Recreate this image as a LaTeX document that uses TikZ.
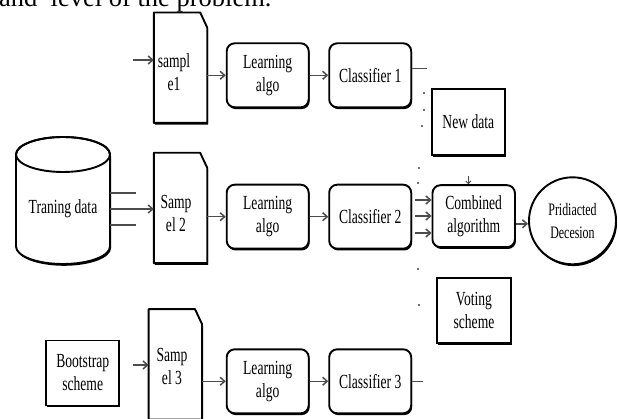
\documentclass[tikz,border=0pt]{standalone}
\usepackage{fontspec}
\setmainfont{Liberation Serif}[FakeStretch=0.68]
\newfontfamily\wideserif{Liberation Serif}
\usetikzlibrary{arrows.meta,shadows}

\tikzset{
  boxshadow/.style={drop shadow={shadow xshift=1pt, shadow yshift=-1.8pt, opacity=1, fill=black}},
  box/.style={draw, line width=1.9pt, fill=white, align=center, inner sep=0pt,
    minimum width=82pt, minimum height=64pt, boxshadow},
  algobox/.style={box, rounded corners=8pt},
  sqbox/.style={box, minimum width=73pt, minimum height=65pt},
  doc/.style={minimum width=53pt, minimum height=110pt, inner sep=0pt},
  docline/.style={draw, line width=1.9pt, fill=white, line join=round, boxshadow},
  link/.style={draw=black!70, line width=1.5pt, -{Straight Barb[length=4.5pt,width=8pt]}},
  stub/.style={draw=black!70, line width=1.5pt},
  dot/.style={fill=black!55}
}

% sheet with a folded corner
\newcommand\sampleoutline[1]{%
  \path[docline] (#1.south west) -- (#1.north west) -- ([xshift=-7pt]#1.north east)
    -- ([yshift=-15pt]#1.north east) -- (#1.south east) -- cycle;}

\begin{document}
\begin{tikzpicture}[x=1pt, y=-1pt, font=\fontsize{20}{23}\selectfont]
  \clip (0,0) rectangle (618,419);

  % line of text cut at the top
  \node[anchor=base west, inner sep=0pt, font=\wideserif\fontsize{26.5}{30}\selectfont]
    (intro) at (-1,7) {and~~level of the problem.};

  % training data store
  \path[docline] (16,154.5) -- (16,246.5)
    arc[start angle=180, end angle=0, x radius=47, y radius=17.5] -- (110,154.5)
    arc[start angle=0, end angle=-180, x radius=47, y radius=17.5] -- cycle;
  \draw[line width=1.9pt] (63,154.5) ellipse[x radius=47, y radius=17.5];
  \node[minimum width=94pt, inner sep=0pt] (trd) at (63,209) {Traning data};

  % samples
  \node[doc] (s1) at (180.5,67.7) {};
  \node[doc] (s2) at (180.5,208) {};
  \node[doc] (s3) at (175.3,364.3) {};
  \foreach \s in {s1,s2,s3} {\sampleoutline{\s}}
  \node[align=center] (s1t) at (174,72) {sampl\\e1};
  \node[align=center] (s2t) at (176,213) {Samp\\el 2};
  \node[align=center] (s3t) at (172,366.7) {Samp\\el 3};

  % learners and classifiers
  \foreach \r/\y in {1/75.3, 2/216.7, 3/381.3} {
    \node[algobox] (la\r) at (267.7,\y) {Learning\\algo};
    \node[algobox] (cl\r) at (370.2,\y) {Classifier \r};
    \draw[link] (la\r) -- (cl\r);
  }
  \draw[link] (la1.west -| s1.east) -- (la1.west);
  \draw[link] (la2.west -| s2.east) -- (la2.west);
  \draw[link] (la3.west -| s3.east) -- (la3.west);

  % side boxes
  \node[sqbox, minimum width=72.7pt, minimum height=66pt] (nd) at (468.3,122) {New data};
  \node[sqbox, minimum width=74pt] (vs) at (474,310.8) {Voting\\scheme};
  \node[sqbox] (bs) at (82.7,373) {Bootstrap\\scheme};

  % combining
  \node[algobox, minimum width=82.5pt, minimum height=62pt] (comb) at (473.7,216.2) {Combined\\algorithm};
  \node[circle, draw, line width=1.9pt, fill=white, minimum size=87pt, inner sep=0pt,
    align=center, font=\fontsize{17.5}{22.5}\selectfont, boxshadow] (dec) at (572.5,220.8) {Pridiacted\\Decesion};
  \draw[link] ([yshift=-3pt]dec.west -| comb.east) -- ([yshift=-3pt]dec.west);
  \draw[draw=black!70, line width=1pt, -{Straight Barb[length=2.5pt,width=5pt]}]
    ([yshift=8pt]comb.north -| nd.south) -- (comb.north -| nd.south);

  % inputs
  \coordinate (in1) at (133,60);
  \coordinate (in3) at (133,365);
  \draw[link] (in1) -- (in1 -| s1.west);
  \draw[link] (in3) -- (in3 -| s3.west);
  \coordinate (t1) at (110,193);
  \coordinate (t3) at (110,225);
  \draw[stub] (t1) -- ++(26,0);
  \draw[stub] (t3) -- ++(26,0);
  \draw[link] (trd.east) -- (trd.east -| s2.west);

  % outputs
  \draw[stub] ([yshift=7pt]cl1.east) -- ++(15,0);
  \draw[stub] (cl3.east) -- ++(11,0);
  \foreach \y in {200,216,233} {
    \coordinate (c\y) at (415,\y);
    \draw[link] (c\y) -- (c\y -| comb.west);
  }
  \foreach \x/\y in {424/93, 424/110, 422/126, 419/168, 418/183, 418/269, 419/305}
    \fill[dot] (\x-1.3,\y-1.3) rectangle ++(2.6,2.6);
\end{tikzpicture}
\end{document}
